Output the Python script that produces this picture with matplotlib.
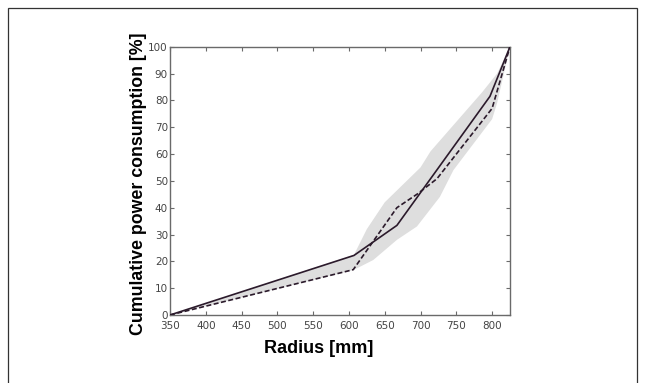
import matplotlib
matplotlib.use("Agg")
import matplotlib.pyplot as plt
from matplotlib.patches import Rectangle

# Data
radius_solid = [350, 607, 667, 797, 825]
power_solid = [0, 22.2, 33.4, 81.5, 100]

radius_dashed = [350, 606, 667, 695, 723, 800, 825]
power_dashed = [0, 16.9, 40.0, 45.0, 50.8, 77.0, 100]

# Shaded spread (upper / lower envelope)
band_upper_x = [350, 607, 625, 650, 700, 714, 786, 807, 825]
band_upper_y = [0, 22.4, 32, 42, 55, 61, 83, 90, 100]
band_lower_x = [350, 606, 634, 667, 695, 727, 746, 800, 807, 825]
band_lower_y = [0, 16.7, 20.5, 28, 33, 44, 54, 73, 79, 100]

x_ticks = [350, 400, 450, 500, 550, 600, 650, 700, 750, 800]
y_ticks = list(range(0, 101, 10))

LINE_COLOR = "#2b1a2b"
AXIS_COLOR = "#6a6a6a"

fig = plt.figure(figsize=(6.46, 3.83), dpi=100)
fig.patch.set_facecolor("white")

# thin frame around the whole figure (bottom edge runs off the image)
fig.patches.append(Rectangle((8 / 646, -0.05), 629 / 646, 1 - 8 / 383 + 0.05,
                             transform=fig.transFigure, fill=False,
                             edgecolor="#333333", linewidth=0.9))

ax = fig.add_axes([170 / 646, 1 - 315 / 383, 340 / 646, 268.3 / 383])

# build closed polygon for the shaded band
poly_x = band_upper_x + band_lower_x[::-1]
poly_y = band_upper_y + band_lower_y[::-1]
ax.fill(poly_x, poly_y, color="#dedede", linewidth=0, zorder=1)

ax.plot(radius_solid, power_solid, color=LINE_COLOR, linewidth=1.2, zorder=3)
ax.plot(radius_dashed, power_dashed, color=LINE_COLOR, linewidth=1.2,
        linestyle=(0, (3, 1.5)), zorder=3)

ax.set_xlim(350, 825)
ax.set_ylim(0, 100)
ax.set_xticks(x_ticks)
ax.set_yticks(y_ticks)

tick_font = ["Liberation Sans Narrow", "DejaVu Sans"]
for lbl in ax.get_xticklabels() + ax.get_yticklabels():
    lbl.set_family(tick_font)
    lbl.set_fontsize(7.5)
    lbl.set_color("#444444")

ax.tick_params(direction="in", length=3, width=0.8, color=AXIS_COLOR,
               top=True, right=True)
ax.tick_params(axis="y", pad=1.5)
ax.tick_params(axis="x", pad=4.5)
for side in ax.spines.values():
    side.set_color(AXIS_COLOR)
    side.set_linewidth(1.0)

label_font = ["Liberation Sans", "DejaVu Sans"]
ax.set_xlabel("Radius [mm]", family=label_font, fontweight="bold",
              fontsize=13)
ax.set_ylabel("Cumulative power consumption [%]", family=label_font,
              fontweight="bold", fontsize=12.8)
ax.xaxis.set_label_coords(0.438, -0.123, transform=ax.transAxes)
ax.yaxis.set_label_coords(-0.094, 0.49, transform=ax.transAxes)
ax.xaxis.label.set_va("center")
ax.yaxis.label.set_va("center")

fig.savefig("out.png", dpi=100)
